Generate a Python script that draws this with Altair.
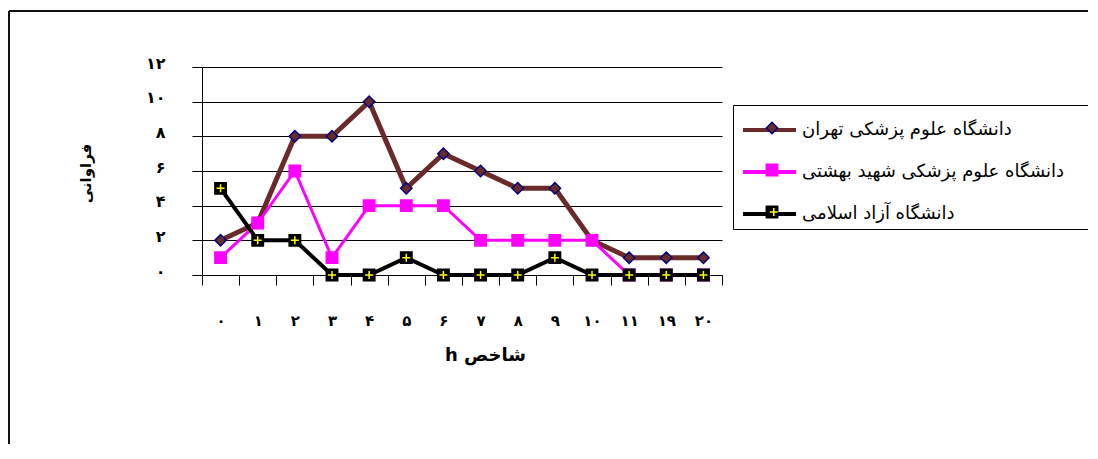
import altair as alt
import pandas as pd

# ---------------- data ----------------
x_labels = ["۰", "۱", "۲", "۳", "۴", "۵", "۶", "۷", "۸", "۹", "۱۰", "۱۱", "۱۹", "۲۰"]
series_names = [
    "دانشگاه علوم پزشکی تهران",
    "دانشگاه علوم پزشکی شهید بهشتی",
    "دانشگاه آزاد اسلامی",
]
tehran = [2, 3, 8, 8, 10, 5, 7, 6, 5, 5, 2, 1, 1, 1]
beheshti = [1, 3, 6, 1, 4, 4, 4, 2, 2, 2, 2, 0, 0, 0]
azad = [5, 2, 2, 0, 0, 1, 0, 0, 0, 1, 0, 0, 0, 0]
y_tick_values = [0, 2, 4, 6, 8, 10, 12]
y_tick_labels = ["۰", "۲", "۴", "۶", "۸", "۱۰", "۱۲"]
x_title = "h شاخص"
y_title = "فراوانی"

# ---------------- styles ----------------
FONT = "DejaVu Sans"
line_colors = ["#6b2a2a", "#ff00ff", "#000000"]
line_widths = [5, 3, 4]
marker_fills = ["#6b2a2a", "#ff00ff", "#000000"]
marker_strokes = ["#000080", "#ff00ff", "#000000"]
marker_shapes = ["diamond", "square", "square"]
cross_colors = ["transparent", "transparent", "#ffff00"]
CROSS = "M-1,0H1M0,-1V1"

rows = []
for name, vals in zip(series_names, [tehran, beheshti, azad]):
    for lab, v in zip(x_labels, vals):
        rows.append({"h": lab, "value": v, "s1": name, "s2": name, "s3": name})
df = pd.DataFrame(rows)

label_expr = (
    "[" + ",".join("'" + t + "'" for t in y_tick_labels) + "]"
    + "[indexof([" + ",".join(str(v) for v in y_tick_values) + "], datum.value)]"
)

x_enc = alt.X(
    "h:N",
    bandPosition=0.5,
    scale=alt.Scale(type="band", domain=x_labels, paddingInner=0, paddingOuter=0),
    axis=alt.Axis(
        title=x_title, titleFont=FONT, titleFontSize=18, titleFontWeight="bold",
        titleColor="black", titleX=283, titleY=80, titleAlign="center",
        titleBaseline="middle",
        labelFont=FONT, labelFontSize=15, labelFontWeight="bold", labelColor="black",
        labelAngle=0, labelPadding=28, tickSize=10, tickColor="black",
        domainColor="black", tickBand="extent", grid=False,
    ),
)
y_enc = alt.Y(
    "value:Q",
    scale=alt.Scale(domain=[0, 12], nice=False),
    axis=alt.Axis(
        values=y_tick_values, labelExpr=label_expr, grid=True, gridColor="black",
        gridOpacity=1, gridWidth=1, tickSize=10, tickColor="black",
        domainColor="black", labelFont=FONT, labelFontSize=16,
        labelFontWeight="bold", labelColor="black", labelPadding=27,
        labelAlign="right", labelBaseline="middle", labelOffset=-4,
        title=y_title, titleFont=FONT, titleFontSize=15, titleFontWeight="bold",
        titleColor="black", titleX=-117, titleY=106, titleAlign="center",
        titleBaseline="middle",
    ),
)

LX, LFS = 531, 18
# boxed legend (markers) and cross overlay share the same row geometry
BOX_Y, PAD, RP = 38, 8, 24
SPACER = dict(title=" ", titleFontSize=6, titlePadding=0, titleFont=FONT)

line_legend = alt.Legend(
    orient="none", legendX=LX, legendY=26.5, title=None, symbolType="stroke",
    symbolSize=2809, symbolStrokeWidth=4, labelOffset=4,
    labelFont=FONT, labelFontSize=LFS, labelColor="black", labelLimit=0,
    padding=PAD, rowPadding=4,
)
pt_legend = alt.Legend(
    orient="none", legendX=LX, legendY=BOX_Y, symbolSize=130,
    symbolStrokeWidth=1.5, symbolOffset=22, labelOffset=318, labelExpr="' '",
    labelFont=FONT, labelFontSize=LFS, labelLimit=0, padding=PAD, rowPadding=RP,
    strokeColor="black", fillColor="transparent", **SPACER,
)
cross_legend = alt.Legend(
    orient="none", legendX=LX, legendY=BOX_Y, symbolType=CROSS,
    symbolSize=64, symbolStrokeWidth=1.5, symbolOffset=23.75,
    symbolFillColor="transparent", labelExpr="' '", labelFont=FONT,
    labelFontSize=LFS, labelLimit=0, padding=PAD, rowPadding=RP, **SPACER,
)

base = alt.Chart(df)

lines = []
for name, w in zip(series_names, line_widths):
    lines.append(
        base.transform_filter(alt.datum.s1 == name)
        .mark_line(strokeWidth=w)
        .encode(
            x=x_enc, y=y_enc,
            color=alt.Color("s1:N", scale=alt.Scale(domain=series_names, range=line_colors),
                            legend=line_legend),
        )
    )

points = base.mark_point(filled=True, opacity=1, size=130, strokeWidth=1.5).encode(
    x=x_enc, y=y_enc,
    fill=alt.Fill("s2:N", scale=alt.Scale(domain=series_names, range=marker_fills), legend=pt_legend),
    stroke=alt.Stroke("s2:N", scale=alt.Scale(domain=series_names, range=marker_strokes), legend=pt_legend),
    shape=alt.Shape("s2:N", scale=alt.Scale(domain=series_names, range=marker_shapes), legend=pt_legend),
)

crosses = base.mark_point(shape=CROSS, filled=False, opacity=1, size=64, strokeWidth=1.5).encode(
    x=x_enc, y=y_enc,
    stroke=alt.Stroke("s3:N", scale=alt.Scale(domain=series_names, range=cross_colors), legend=cross_legend),
)

frame_df = pd.DataFrame({"k": [0]})
frame_top = alt.Chart(frame_df).mark_rule(color="#111", strokeWidth=2).encode(
    x=alt.value(-193), x2=alt.value(900), y=alt.value(-56)
)
frame_left = alt.Chart(frame_df).mark_rule(color="#111", strokeWidth=2).encode(
    x=alt.value(-193), y=alt.value(-56), y2=alt.value(400)
)

chart = (
    alt.layer(frame_top, frame_left, *lines, points, crosses)
    .resolve_scale(fill="independent", stroke="independent", shape="independent")
    .properties(
        width=520, height=208,
        autosize=alt.AutoSizeParams(type="none"),
        padding={"left": 194, "top": 59, "right": 366, "bottom": 169},
        background="white",
    )
    .configure_view(stroke=None)
)

chart.save("out.html", embed_options={"renderer": "svg", "actions": False})
